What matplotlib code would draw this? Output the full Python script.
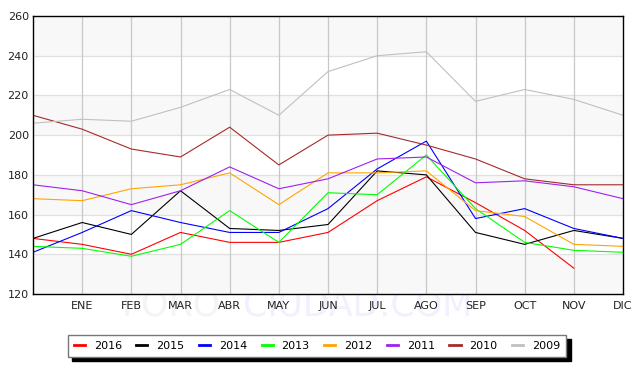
import matplotlib

matplotlib.use("Agg")
import matplotlib.pyplot as plt

months = ["", "ENE", "FEB", "MAR", "ABR", "MAY", "JUN", "JUL", "AGO", "SEP", "OCT", "NOV", "DIC"]

years = ["2016", "2015", "2014", "2013", "2012", "2011", "2010", "2009"]
colors = ["#ff0000", "#000000", "#0000ff", "#00ff00", "#ffa500", "#a020f0", "#a52a2a", "#c0c0c0"]

v2016 = [148, 145, 140, 151, 146, 146, 151, 167, 179, 166, 152, 133]
v2015 = [148, 156, 150, 172, 153, 152, 155, 182, 180, 151, 145, 152, 148]
v2014 = [141, 151, 162, 156, 151, 151, 163, 183, 197, 158, 163, 153, 148]
v2013 = [144, 143, 139, 145, 162, 146, 171, 170, 190, 163, 146, 142, 141]
v2012 = [168, 167, 173, 175, 181, 165, 181, 181, 182, 162, 159, 145, 144]
v2011 = [175, 172, 165, 172, 184, 173, 178, 188, 189, 176, 177, 174, 168]
v2010 = [210, 203, 193, 189, 204, 185, 200, 201, 195, 188, 178, 175, 175]
v2009 = [206, 208, 207, 214, 223, 210, 232, 240, 242, 217, 223, 218, 210]
series = [v2016, v2015, v2014, v2013, v2012, v2011, v2010, v2009]

fig = plt.figure(figsize=(6.38, 3.84), dpi=100)

# watermark, behind everything
fig.text(122 / 638, 1 - 306 / 384, "FORO-", fontsize=25, color="#f4f4f4", va="center", ha="left", zorder=-5)
fig.text(243 / 638, 1 - 306 / 384, "CIUDAD.COM", fontsize=25, color="#f0f0ff", va="center", ha="left", zorder=-5)

ax = fig.add_axes([33 / 638, 1 - 294 / 384, 590 / 638, 278 / 384])
ax.set_zorder(2)

# alternating bands
for lo in range(120, 260, 40):
    ax.axhspan(lo, lo + 20, color="#f8f8f8", zorder=0, lw=0)
ax.axhspan(240, 260, color="#f8f8f8", zorder=0, lw=0)

ax.set_xlim(0, 12)
ax.set_ylim(120, 260)
ax.set_yticks(range(120, 261, 20))
ax.set_xticks(range(13))
ax.set_xticklabels(months)
for y in range(140, 260, 20):
    ax.axhline(y, color="#e0e0e0", lw=0.9, zorder=1)
for x in range(1, 12):
    ax.axvline(x, color="#c8c8c8", lw=0.9, zorder=1)

ax.tick_params(length=0, labelsize=8, pad=5, colors="#222222")
ax.tick_params(axis="y", pad=3)
for s in ax.spines.values():
    s.set_linewidth(1.0)
    s.set_zorder(5)

for yr, c, vals in zip(years, colors, series):
    ax.plot(range(len(vals)), vals, color=c, lw=0.8, label=yr, zorder=3)

leg = fig.legend(
    loc="center", bbox_to_anchor=(317 / 638, 1 - 346 / 384), ncol=8, fontsize=8,
    frameon=True, fancybox=False, shadow={"color": "black", "alpha": 1, "ox": 3, "oy": -3},
    handlelength=1.0, columnspacing=1.3, handletextpad=0.8, borderpad=0.55, borderaxespad=0,
)
leg.get_frame().set_edgecolor("#777777")
leg.get_frame().set_linewidth(1.0)
for h in leg.get_lines():
    h.set_linewidth(2)

fig.savefig("out.png", dpi=100)
